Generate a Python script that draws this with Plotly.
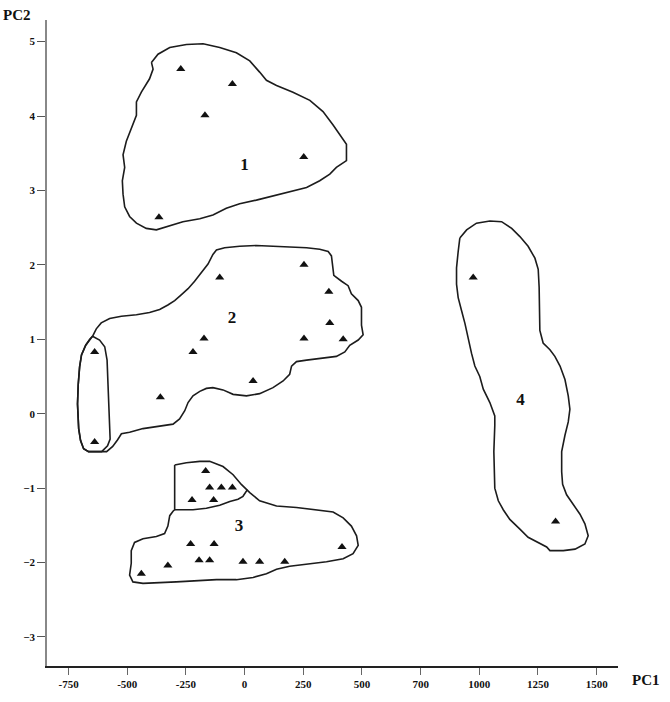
import plotly.graph_objects as go

# ---- sample scores (PC1, PC2) ----
g1_pc1 = [-272, -52, -169, 252, -365]
g1_pc2 = [4.63, 4.43, 4.01, 3.45, 2.64]

g2_pc1 = [-106, 253, 359, 363, 253, 420, -173, -220, 36, -359, -639, -639]
g2_pc2 = [1.83, 2.00, 1.64, 1.22, 1.01, 1.00, 1.01, 0.83, 0.44, 0.22, 0.83, -0.38]

g3_pc1 = [-166, -149, -99, -52, -224, -132, -230, -130, -194, -149, -7, 64, 171, 415, -327, -440]
g3_pc2 = [-0.77, -0.99, -0.99, -0.99, -1.16, -1.16, -1.75, -1.75, -1.97, -1.97,
          -1.99, -1.99, -1.99, -1.79, -2.04, -2.15]

g4_pc1 = [974, 1325]
g4_pc2 = [1.83, -1.45]

# ---- hand-drawn group outlines ----
out1_x = [-397, -369, -319, -248, -177, -106, -35, 22, 64, 93, 136, 206, 278, 334, 377, 406, 434, 434,
          391, 363, 320, 264, 192, 121, 50, -21, -78, -135, -191, -263, -333, -376, -419, -461, -490,
          -511, -518, -521, -511, -518, -504, -483, -461, -461, -440, -405, -390, -397]
out1_y = [4.72, 4.83, 4.92, 4.96, 4.97, 4.92, 4.85, 4.74, 4.59, 4.48, 4.41, 4.32, 4.21, 4.06, 3.88, 3.75,
          3.62, 3.40, 3.31, 3.22, 3.13, 3.04, 2.98, 2.93, 2.87, 2.82, 2.76, 2.67, 2.62, 2.58, 2.51, 2.47,
          2.49, 2.56, 2.65, 2.78, 2.95, 3.13, 3.31, 3.48, 3.66, 3.84, 4.01, 4.19, 4.32, 4.50, 4.63, 4.72]

out2_x = [-648, -632, -611, -575, -525, -461, -405, -362, -327, -298, -269, -241, -213, -184, -156,
          -135, -120, -85, -21, 50, 121, 192, 264, 320, 356, 370, 374, 380, 413, 441, 455, 484, 498,
          498, 498, 505, 484, 448, 427, 391, 334, 264, 221, 200, 192, 164, 121, 64, 8, -49, -92, -135,
          -163, -191, -220, -241, -255, -277, -305, -362, -433, -490, -525, -541, -562, -588, -609,
          -665, -686, -699, -707, -712, -709, -703, -695, -677, -660, -648]
out2_y = [1.04, 1.14, 1.22, 1.28, 1.31, 1.33, 1.36, 1.40, 1.46, 1.52, 1.60, 1.68, 1.78, 1.89, 2.01,
          2.14, 2.20, 2.23, 2.25, 2.26, 2.25, 2.24, 2.23, 2.21, 2.18, 2.12, 1.98, 1.86, 1.78, 1.72, 1.61,
          1.52, 1.43, 1.30, 1.19, 1.06, 0.99, 0.92, 0.83, 0.77, 0.75, 0.72, 0.70, 0.64, 0.53, 0.44, 0.35,
          0.27, 0.24, 0.26, 0.32, 0.35, 0.34, 0.30, 0.24, 0.15, 0.04, -0.07, -0.14, -0.17, -0.20, -0.25,
          -0.27, -0.35, -0.44, -0.51, -0.51, -0.51, -0.47, -0.36, -0.20, 0.13, 0.39, 0.63, 0.79, 0.92,
          1.00, 1.04]

out2b_x = [-648, -618, -596, -586, -582, -577, -573, -573, -584, -609, -665, -686, -699, -707, -712,
           -709, -703, -695, -677, -660, -648]
out2b_y = [1.04, 0.99, 0.90, 0.72, 0.39, 0.06, -0.20, -0.34, -0.43, -0.51, -0.51, -0.47, -0.36, -0.20,
           0.13, 0.39, 0.63, 0.79, 0.92, 1.00, 1.04]

out3_x = [-298, -248, -191, -149, -92, -49, -14, 22, 64, 136, 221, 306, 377, 420, 455, 477, 484, 462,
          420, 349, 278, 192, 136, 93, 36, -35, -120, -205, -291, -362, -433, -476, -490, -483, -483,
          -469, -433, -376, -341, -327, -319, -305, -298, -298, -298]
out3_y = [-0.69, -0.66, -0.64, -0.64, -0.71, -0.82, -0.95, -1.06, -1.17, -1.24, -1.26, -1.29, -1.32,
          -1.40, -1.51, -1.64, -1.77, -1.88, -1.95, -1.99, -2.02, -2.05, -2.09, -2.15, -2.20, -2.23,
          -2.23, -2.24, -2.26, -2.27, -2.28, -2.26, -2.17, -2.01, -1.84, -1.73, -1.68, -1.65, -1.61,
          -1.51, -1.37, -1.31, -1.29, -1.00, -0.69]

out3b_x = [-298, -220, -163, -106, -63, -28, -7, 5, 12]
out3b_y = [-1.29, -1.29, -1.27, -1.23, -1.18, -1.15, -1.11, -1.05, -1.02]

out4_x = [917, 946, 988, 1045, 1095, 1138, 1173, 1208, 1237, 1251, 1255, 1255, 1258, 1272, 1301, 1322,
          1344, 1365, 1379, 1386, 1379, 1365, 1351, 1351, 1355, 1372, 1400, 1429, 1450, 1464, 1450,
          1408, 1358, 1301, 1287, 1251, 1208, 1173, 1130, 1102, 1081, 1066, 1063, 1062, 1066, 1066,
          1045, 1017, 1002, 981, 967, 953, 939, 924, 910, 903, 903, 910, 917]
out4_y = [2.36, 2.47, 2.56, 2.59, 2.58, 2.49, 2.38, 2.25, 2.09, 1.94, 1.70, 1.39, 1.12, 0.95, 0.86,
          0.77, 0.64, 0.46, 0.24, 0.06, -0.11, -0.29, -0.51, -0.78, -0.95, -1.09, -1.22, -1.35, -1.48,
          -1.64, -1.75, -1.82, -1.84, -1.84, -1.79, -1.73, -1.66, -1.55, -1.42, -1.29, -1.17, -1.00,
          -0.78, -0.51, -0.16, -0.03, 0.15, 0.33, 0.50, 0.64, 0.81, 1.03, 1.21, 1.39, 1.56, 1.74, 1.96,
          2.18, 2.36]

# group numbers and their positions
group_names = ["1", "2", "3", "4"]
group_lab_pc1 = [0, -54, -24, 1176]
group_lab_pc2 = [3.33, 1.28, -1.52, 0.17]

# axis ticks
x_ticks = [-750, -500, -250, 0, 250, 500, 750, 1000, 1250, 1500]
x_tick_text = ["-750", "-500", "-250", "0", "250", "500", "700", "1000", "1250", "1500"]
y_ticks = [-3, -2, -1, 0, 1, 2, 3, 4, 5]

SERIF = "Liberation Serif"
LINE = "#1c1c1c"

fig = go.Figure()

outlines = [(out1_x, out1_y), (out2_x, out2_y), (out2b_x, out2b_y),
            (out3_x, out3_y), (out3b_x, out3b_y), (out4_x, out4_y)]
for ox, oy in outlines:
    fig.add_trace(go.Scatter(x=ox, y=oy, mode="lines",
                             line=dict(color=LINE, width=1.6),
                             hoverinfo="skip", showlegend=False))

for px, py in [(g1_pc1, g1_pc2), (g2_pc1, g2_pc2), (g3_pc1, g3_pc2), (g4_pc1, g4_pc2)]:
    fig.add_trace(go.Scatter(x=px, y=py, mode="markers",
                             marker=dict(symbol="triangle-up", size=8, color="#111111",
                                         line=dict(width=0)),
                             showlegend=False))

fig.add_trace(go.Scatter(x=group_lab_pc1, y=group_lab_pc2, mode="text", text=group_names,
                         textfont=dict(family=SERIF, size=17, color="#111111", weight="bold"),
                         showlegend=False, hoverinfo="skip"))

fig.update_xaxes(range=[-842, 1591], tickvals=x_ticks, ticktext=x_tick_text,
                 showgrid=False, zeroline=False, showline=True, linecolor="#222222", linewidth=1.5,
                 ticks="outside", ticklen=7, tickwidth=1, tickcolor="#666666",
                 tickfont=dict(family=SERIF, size=11, color="#111111", weight="bold"))
fig.update_yaxes(range=[-3.39, 5.29], tickvals=y_ticks,
                 showgrid=False, zeroline=False, showline=True, linecolor="#888888", linewidth=1.5,
                 ticks="outside", ticklen=8, tickwidth=1, tickcolor="#555555",
                 tickfont=dict(family=SERIF, size=11, color="#111111", weight="bold"))

fig.add_annotation(text="PC2", xref="paper", yref="paper", x=-0.0525, y=1.0076,
                   xanchor="center", yanchor="middle", showarrow=False,
                   font=dict(family=SERIF, size=15, color="#111111", weight="bold"))
fig.add_annotation(text="PC1", xref="paper", yref="paper", x=1.049, y=-0.0213,
                   xanchor="center", yanchor="middle", showarrow=False,
                   font=dict(family=SERIF, size=15, color="#111111", weight="bold"))

fig.update_layout(width=670, height=702, paper_bgcolor="white", plot_bgcolor="white",
                  margin=dict(l=47, r=52, t=20, b=26), showlegend=False)

fig.write_html("out.html")
